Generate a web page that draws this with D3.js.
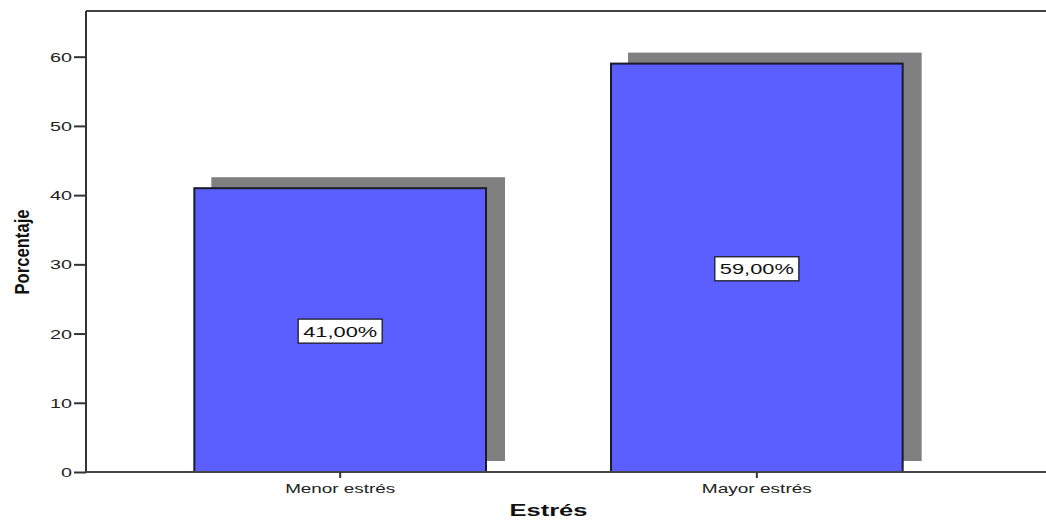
<!DOCTYPE html>
<html>
<head>
<meta charset="utf-8">
<script src="https://cdn.jsdelivr.net/npm/d3@7"></script>
<style>
  html, body { margin: 0; padding: 0; background: #fff; }
  svg { display: block; }
</style>
</head>
<body>
<svg id="chart" width="1046" height="521"></svg>
<script>
// Stress levels and their share of respondents (%)
const categories = ["Menor estrés", "Mayor estrés"];
const percentages = [41.0, 59.0];
const yTicks = [0, 10, 20, 30, 40, 50, 60];
const xTitle = "Estrés";
const yTitle = "Porcentaje";

const svg = d3.select("#chart");
const W = 1046, H = 521;
const plot = { left: 86, right: 1011, top: 11, bottom: 472 };

const x = d3.scaleBand()
  .domain(categories)
  .range([plot.left, plot.right])
  .paddingInner(0.3)
  .paddingOuter(0.26);

const y = d3.scaleLinear()
  .domain([0, 66.6])
  .range([plot.bottom, plot.top]);

const fmt = v => d3.format(".2f")(v).replace(".", ",") + "%";

// drop shadows behind each bar
const shadowDx = 17, shadowDy = -11;
svg.append("g").selectAll("rect")
  .data(percentages)
  .join("rect")
  .attr("x", (d, i) => x(categories[i]) + shadowDx)
  .attr("y", d => y(d) + shadowDy)
  .attr("width", x.bandwidth() + 2)
  .attr("height", d => plot.bottom - y(d))
  .attr("fill", "#808080");

// bars
svg.append("g").selectAll("rect")
  .data(percentages)
  .join("rect")
  .attr("x", (d, i) => x(categories[i]))
  .attr("y", d => y(d))
  .attr("width", x.bandwidth())
  .attr("height", d => plot.bottom - y(d))
  .attr("fill", "#5b5fff")
  .attr("stroke", "#1a1a2a")
  .attr("stroke-width", 2);

// frame: top line
svg.append("line")
  .attr("x1", plot.left).attr("x2", W)
  .attr("y1", plot.top).attr("y2", plot.top)
  .attr("stroke", "#444").attr("stroke-width", 2);

// y axis
const yAxis = svg.append("g")
  .attr("transform", `translate(${plot.left},0)`)
  .call(d3.axisLeft(y).tickValues(yTicks).tickSize(12).tickPadding(2).tickFormat(d3.format("d")));
yAxis.select(".domain").attr("stroke", "#333").attr("stroke-width", 2)
  .attr("d", `M0,${plot.bottom}V${plot.top}`);
yAxis.selectAll(".tick line").attr("stroke", "#333").attr("stroke-width", 2);
yAxis.selectAll(".tick text")
  .attr("font-family", "Liberation Sans, Arial, sans-serif")
  .attr("font-size", 13)
  .attr("fill", "#222")
  .attr("dy", "0.35em")
  .attr("textLength", d => d >= 10 ? 22 : 11)
  .attr("lengthAdjust", "spacingAndGlyphs");

// x axis
const xAxis = svg.append("g")
  .attr("transform", `translate(0,${plot.bottom})`)
  .call(d3.axisBottom(x).tickSize(6).tickPadding(6));
xAxis.select(".domain").attr("stroke", "#444").attr("stroke-width", 2)
  .attr("d", `M${plot.left},0H${W}`);
xAxis.selectAll(".tick line").attr("stroke", "#333").attr("stroke-width", 2);
xAxis.selectAll(".tick text")
  .attr("font-family", "Liberation Sans, Arial, sans-serif")
  .attr("font-size", 13)
  .attr("fill", "#222")
  .attr("textLength", 110)
  .attr("lengthAdjust", "spacingAndGlyphs");

// value labels in boxes at mid-height of each bar
const labels = svg.append("g").selectAll("g")
  .data(percentages)
  .join("g")
  .attr("transform", (d, i) => `translate(${x(categories[i]) + x.bandwidth() / 2},${y(d / 2) + 1})`);
labels.append("rect")
  .attr("x", -42).attr("y", -12)
  .attr("width", 84).attr("height", 24)
  .attr("fill", "#fff")
  .attr("stroke", "#111")
  .attr("stroke-width", 1.2);
labels.append("text")
  .attr("text-anchor", "middle")
  .attr("dy", "0.36em")
  .attr("font-family", "Liberation Sans, Arial, sans-serif")
  .attr("font-size", 15)
  .attr("fill", "#111")
  .attr("textLength", 74)
  .attr("lengthAdjust", "spacingAndGlyphs")
  .text(d => fmt(d));

// axis titles
svg.append("text")
  .attr("x", (plot.left + plot.right) / 2)
  .attr("y", 516)
  .attr("text-anchor", "middle")
  .attr("font-family", "Liberation Sans, Arial, sans-serif")
  .attr("font-weight", "bold")
  .attr("font-size", 17)
  .attr("fill", "#111")
  .attr("textLength", 78)
  .attr("lengthAdjust", "spacingAndGlyphs")
  .text(xTitle);

svg.append("text")
  .attr("transform", `translate(29,252) rotate(-90)`)
  .attr("text-anchor", "middle")
  .attr("font-family", "Liberation Sans Narrow, Arial Narrow, sans-serif")
  .attr("font-weight", "bold")
  .attr("font-size", 21)
  .attr("fill", "#111")
  .attr("textLength", 85)
  .attr("lengthAdjust", "spacingAndGlyphs")
  .text(yTitle);
</script>
</body>
</html>
